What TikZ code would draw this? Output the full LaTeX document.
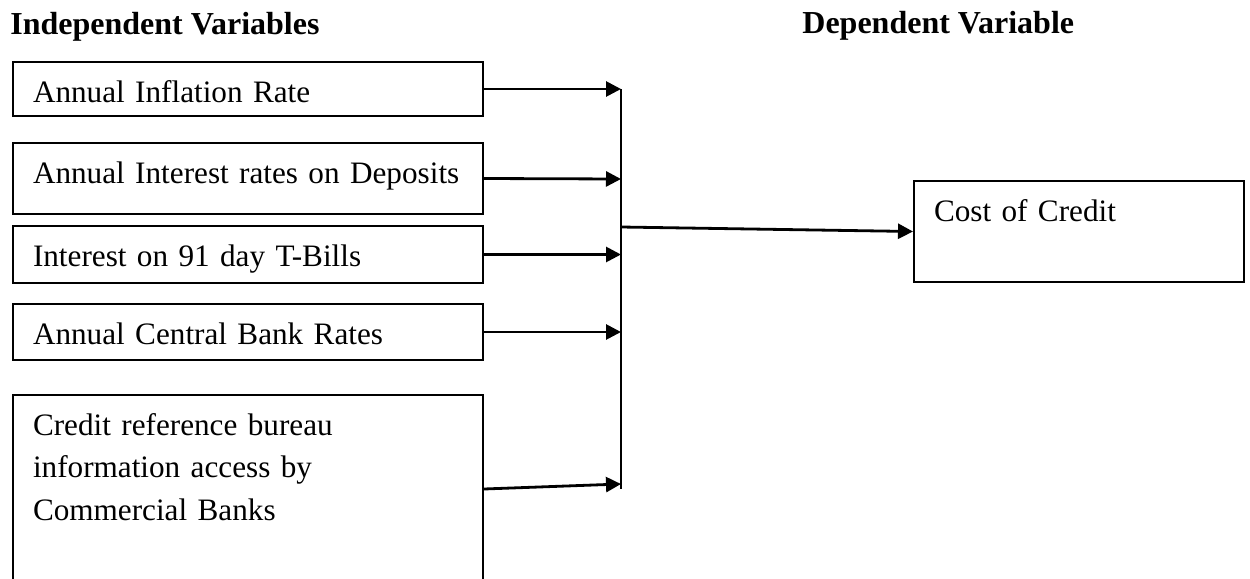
\documentclass[tikz,border=0pt]{standalone}
\usepackage{fontspec}
\setmainfont{Liberation Serif}
\usetikzlibrary{arrows.meta}

\begin{document}
\begin{tikzpicture}[x=0.5pt, y=-0.5pt,
    varbox/.style={draw, line width=1pt, anchor=north west, inner xsep=10pt, inner ysep=0pt,
      text width=215pt, text height=20pt, align=left, font=\fontsize{15.6pt}{21.25pt}\selectfont},
    feed/.style={line width=1.4pt, -{Triangle[length=7.5pt, width=7.5pt]}},
    head/.style={anchor=base west, inner sep=0pt, font=\fontsize{16pt}{19pt}\selectfont\bfseries}]
      \clip (0,0) rectangle (1250,579);
      \coordinate (bus) at (621,0);
      \coordinate (J_2) at (621,179);
      \coordinate (J_5) at (621,484);
      \coordinate (hub) at (621,227);
      \node[head] (indep) at (10,34) {Independent Variables};
      \node[head] (dep) at (802,33) {Dependent Variable};
      \node[varbox, text depth=7pt] (infl) at (12,61) {Annual Inflation Rate};
      \node[varbox, text depth=15.5pt] (depo) at (12,142) {Annual Interest rates on Deposits};
      \node[varbox, text depth=8.5pt] (tbill) at (12,225) {Interest on 91 day T-Bills};
      \node[varbox, text depth=8pt] (cbr) at (12,303) {Annual Central Bank Rates};
      \node[varbox, text depth=74pt] (crb) at (12,394) {Credit reference bureau\\ information access by\\ Commercial Banks};
      \node[varbox, text width=145pt, text depth=30.5pt] (cost) at (913,180) {Cost of Credit};
      \draw[line width=1pt] (infl.east -| bus) -- (crb.east -| bus);
      \draw[feed] (infl.east) -- (infl.east -| bus);
      \draw[feed] (depo.east) -- (J_2);
      \draw[feed] (tbill.east) -- (tbill.east -| bus);
      \draw[feed] (cbr.east) -- (cbr.east -| bus);
      \draw[feed] (crb.east) -- (J_5);
      \draw[feed] (hub) -- (cost.west);
    \end{tikzpicture}
\end{document}
